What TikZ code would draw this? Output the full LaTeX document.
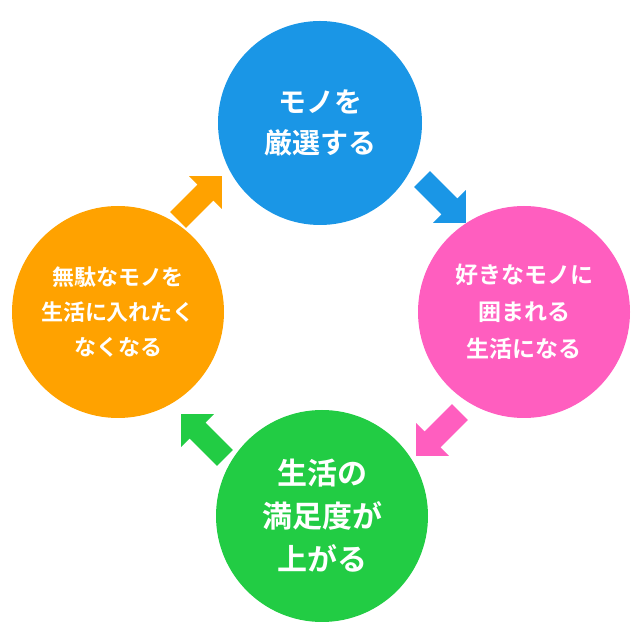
\documentclass[tikz,border=0pt]{standalone}
\usepackage{fontspec}
\setmainfont{Noto Sans CJK JP Bold}
\usetikzlibrary{shapes.arrows}
\definecolor{cblue}{HTML}{1A96E6}
\definecolor{cpink}{HTML}{FF5EBF}
\definecolor{cgreen}{HTML}{22CC44}
\definecolor{corange}{HTML}{FFA200}
\begin{document}
\begin{tikzpicture}[x=1pt,y=1pt,
  circ/.style={circle,minimum size=205pt,inner sep=0pt,text=white,align=center},
  arr/.style={single arrow,minimum height=62pt,single arrow head extend=12pt,inner xsep=0pt,inner ysep=11pt,draw=none,text width=0pt,text height=0pt,text depth=0pt}]
\useasboundingbox (0,0) rectangle (640,640);
\node[circ,fill=cblue,minimum size=204pt,font=\fontsize{28}{41}\selectfont] (top) at (320,517) {モノを\\厳選する};
\node[circ,fill=cpink,minimum size=212pt,font=\fontsize{23}{37}\selectfont] (right) at (524,328) {好きなモノに\\囲まれる\\生活になる};
\node[circ,fill=cgreen,minimum size=212pt,font=\fontsize{30}{43}\selectfont] (bottom) at (322,124) {生活の\\満足度が\\上がる};
\node[circ,fill=corange,minimum size=212pt,font=\fontsize{22}{35}\selectfont] (left) at (118,328) {無駄なモノを\\生活に入れたく\\なくなる};
\node[arr,fill=cblue,rotate=-45] (a1) at (440,443) {};
\node[arr,fill=cpink,rotate=225] (a2) at (442,210) {};
\node[arr,fill=cgreen,rotate=135] (a3) at (207,200) {};
\node[arr,fill=corange,rotate=45] (a4) at (196,438) {};
\end{tikzpicture}
\end{document}
